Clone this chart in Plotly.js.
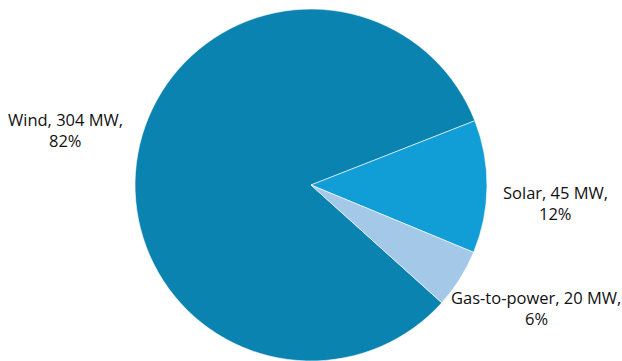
<!DOCTYPE html>
<html>
<head>
<meta charset="utf-8">
<script src="https://cdn.plot.ly/plotly-3.0.1.min.js"></script>
<style>html,body{margin:0;padding:0;background:#fff;}#chart{width:622px;height:361px;}</style>
</head>
<body>
<div id="chart"></div>
<script>
const labels = ["Wind", "Solar", "Gas-to-power"];
const valuesMW = [304, 45, 20];
const pctLabels = ["82%", "12%", "6%"];
const colors = ["#0b83b0", "#119dd6", "#a4c8e8"];

// label anchor positions (paper coords) for line 1 and line 2
const labelX = [0.1053, 0.893, 0.862];
const labelY1 = [0.669, 0.467, 0.176];
const labelY2 = [0.612, 0.409, 0.118];

const trace = {
  type: "pie",
  labels: labels,
  values: valuesMW,
  sort: false,
  direction: "clockwise",
  rotation: 132,
  textinfo: "none",
  hoverinfo: "label+value+percent",
  showlegend: false,
  marker: { colors: colors, line: { color: "#ffffff", width: 0.6 } },
  domain: { x: [0.2162, 0.7838], y: [0, 0.975] }
};

const annotations = [];
labels.forEach((l, i) => {
  annotations.push({
    xref: "paper", yref: "paper", x: labelX[i], y: labelY1[i],
    text: l + ", " + valuesMW[i] + " MW,", showarrow: false,
    xanchor: "center", yanchor: "middle",
    font: { family: "Open Sans, sans-serif", size: 16.5, color: "#111" }
  });
  annotations.push({
    xref: "paper", yref: "paper", x: labelX[i], y: labelY2[i],
    text: pctLabels[i], showarrow: false,
    xanchor: "center", yanchor: "middle",
    font: { family: "Open Sans, sans-serif", size: 16.5, color: "#111" }
  });
});

const layout = {
  width: 622, height: 361,
  margin: { l: 0, r: 0, t: 0, b: 0 },
  paper_bgcolor: "#ffffff",
  annotations: annotations
};

Plotly.newPlot("chart", [trace], layout, { displayModeBar: false, staticPlot: true });
</script>
</body>
</html>
